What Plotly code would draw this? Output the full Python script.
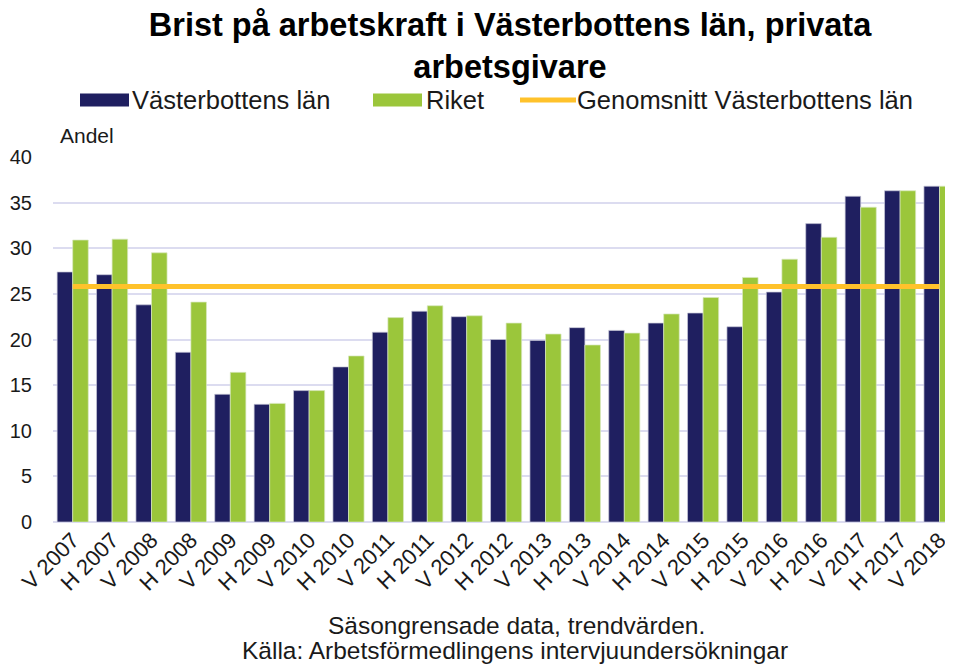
import plotly.graph_objects as go

categories = ["V 2007", "H 2007", "V 2008", "H 2008", "V 2009", "H 2009", "V 2010", "H 2010",
              "V 2011", "H 2011", "V 2012", "H 2012", "V 2013", "H 2013", "V 2014", "H 2014",
              "V 2015", "H 2015", "V 2016", "H 2016", "V 2017", "H 2017", "V 2018"]
vasterbotten = [27.4, 27.1, 23.8, 18.6, 14.0, 12.9, 14.4, 17.0, 20.8, 23.1, 22.5, 20.0,
                19.9, 21.3, 21.0, 21.8, 22.9, 21.4, 25.2, 32.7, 35.7, 36.3, 36.8]
riket = [30.9, 31.0, 29.5, 24.1, 16.4, 13.0, 14.4, 18.2, 22.4, 23.7, 22.6, 21.8,
         20.6, 19.4, 20.7, 22.8, 24.6, 26.8, 28.8, 31.2, 34.5, 36.3, 36.8]
genomsnitt = [25.8] * len(categories)
y_ticks = [0, 5, 10, 15, 20, 25, 30, 35, 40]

NAVY = "#1F1F60"
GREEN = "#9BC63B"
YELLOW = "#FFC22B"
GRID = "#DCDCF0"
TXT = "#1a1a1a"
FONT = "Liberation Sans, Arial, sans-serif"

# The page body has a default 8px margin, so the figure is drawn 8px smaller
# and every reference pixel position is mapped through OFF.
OFF = 8
W, H = 953 - OFF, 666 - OFF
L, R, T, B = 53 - OFF, 953 - OFF, 157 - OFF, 522 - OFF


def px(x):
    return (x - OFF - L) / (R - L)


def py(y):
    return (B - (y - OFF)) / (B - T)


xs = list(range(len(categories)))
fig = go.Figure()
fig.add_trace(go.Bar(x=xs, y=vasterbotten, name="Västerbottens län",
                     marker=dict(color=NAVY, line=dict(color="#C8C8D8", width=0.7))))
fig.add_trace(go.Bar(x=xs, y=riket, name="Riket",
                     marker=dict(color=GREEN, line=dict(color="#D8E8C0", width=0.7))))
fig.add_trace(go.Scatter(x=xs, y=genomsnitt, mode="lines",
                         name="Genomsnitt Västerbottens län",
                         line=dict(color=YELLOW, width=5)))

fig.update_layout(
    width=W, height=H,
    margin=dict(l=L, r=W - R, t=T, b=H - B, pad=0, autoexpand=False),
    paper_bgcolor="white", plot_bgcolor="white",
    barmode="group", bargap=0.21, bargroupgap=0,
    showlegend=False,
    font=dict(family=FONT, color=TXT, size=19),
    title=dict(text="<b>Brist på arbetskraft i Västerbottens län, privata<br>arbetsgivare</b>",
               x=(510 - OFF) / W, xanchor="center", xref="container",
               y=1 - 28 / H, yanchor="top", yref="container",
               font=dict(family=FONT, size=32.5, color="#000000")),
    xaxis=dict(range=[-0.5, -0.5 + (R - L) / 39.4], tickmode="array",
               tickvals=xs, ticktext=categories, automargin=False,
               tickangle=-45, tickfont=dict(size=22, color=TXT),
               showgrid=False, zeroline=False, showline=False, ticks=""),
    yaxis=dict(range=[0, 40], tickmode="array", tickvals=y_ticks, automargin=False,
               tickfont=dict(size=20, color=TXT),
               showgrid=True, gridcolor=GRID, gridwidth=1.5, zeroline=True,
               zerolinecolor=GRID, zerolinewidth=1.5, showline=False, ticks="",
               ticklabelstandoff=20),
)

# Manual legend (wide swatches like the original)
leg_y = 100
fig.add_shape(type="rect", xref="paper", yref="paper", x0=px(80), x1=px(129),
              y0=py(93.5), y1=py(106.5), fillcolor=NAVY, line=dict(width=0))
fig.add_shape(type="rect", xref="paper", yref="paper", x0=px(373), x1=px(422),
              y0=py(93.5), y1=py(106.5), fillcolor=GREEN, line=dict(width=0))
fig.add_shape(type="line", xref="paper", yref="paper", x0=px(520), x1=px(576),
              y0=py(leg_y), y1=py(leg_y), line=dict(color=YELLOW, width=5))
for xpos, txt in [(130, "Västerbottens län"), (424, "Riket"), (575, "Genomsnitt Västerbottens län")]:
    fig.add_annotation(xref="paper", yref="paper", x=px(xpos), y=py(leg_y), text=txt,
                       showarrow=False, xanchor="left", yanchor="middle",
                       font=dict(size=25.5, color=TXT))

fig.add_annotation(xref="paper", yref="paper", x=px(58), y=py(136), text="Andel",
                   showarrow=False, xanchor="left", yanchor="middle",
                   font=dict(size=21, color=TXT))
fig.add_annotation(xref="paper", yref="paper", x=px(516), y=py(625),
                   text="Säsongrensade data, trendvärden.",
                   showarrow=False, xanchor="center", yanchor="middle",
                   font=dict(size=24.5, color=TXT))
fig.add_annotation(xref="paper", yref="paper", x=px(515), y=py(650),
                   text="Källa: Arbetsförmedlingens intervjuundersökningar",
                   showarrow=False, xanchor="center", yanchor="middle",
                   font=dict(size=24.5, color=TXT))

fig.write_html("out.html")
